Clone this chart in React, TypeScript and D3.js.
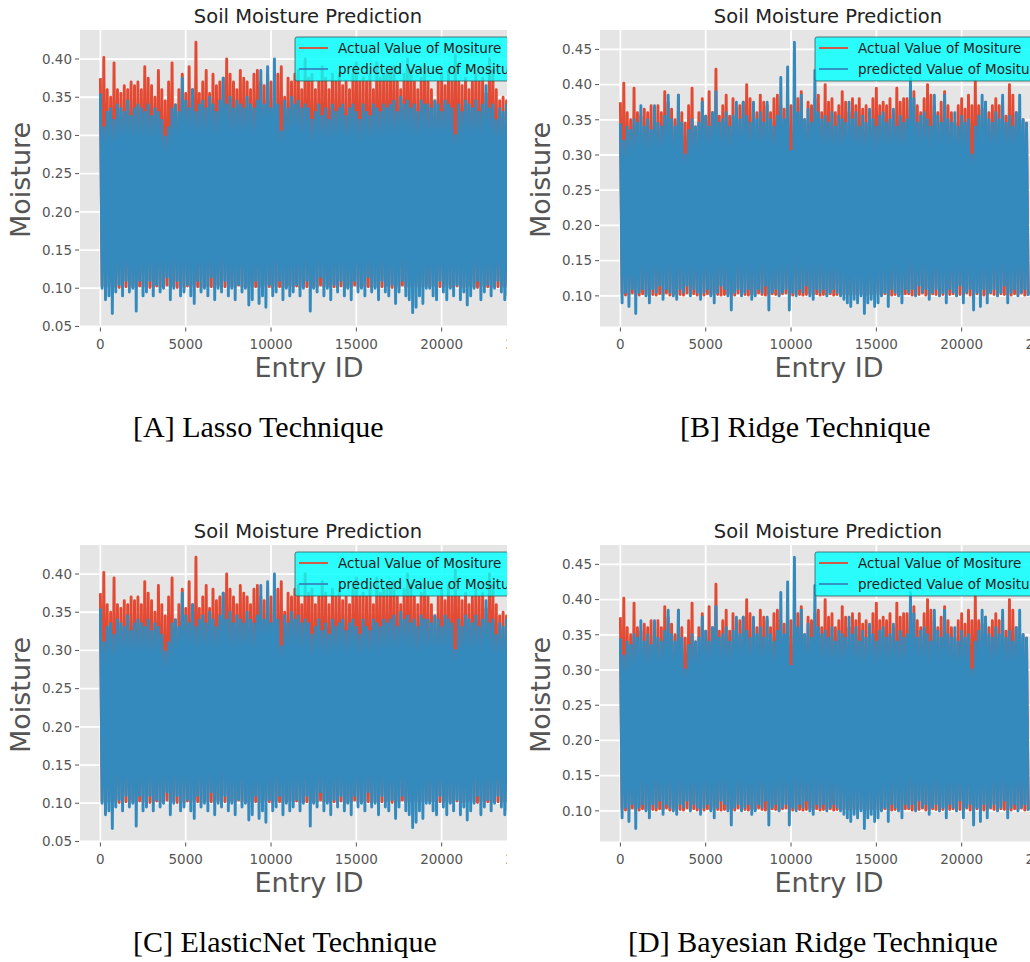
import React from 'react';
import * as d3 from 'd3';

// every pair (high, low) is 200 entries apart, high at 200k, low at 200k + 100
const ENTRY_STEP = 100;

// actual moisture, the same test set for every model
const actualHigh = [
  0.375, 0.402, 0.36, 0.35, 0.395, 0.36, 0.355, 0.365, 0.36, 0.37, 0.365, 0.37,
  0.36, 0.39, 0.375, 0.365, 0.35, 0.385, 0.36, 0.345, 0.37, 0.395, 0.34, 0.36,
  0.38, 0.355, 0.39, 0.36, 0.422, 0.355, 0.37, 0.385, 0.355, 0.38, 0.365, 0.37,
  0.375, 0.4, 0.38, 0.37, 0.36, 0.385, 0.375, 0.37, 0.36, 0.38, 0.385, 0.37,
  0.365, 0.38, 0.37, 0.36, 0.38, 0.39, 0.35, 0.375, 0.37, 0.38, 0.385, 0.36,
  0.4, 0.375, 0.38, 0.36, 0.37, 0.39, 0.375, 0.36, 0.38, 0.37, 0.38, 0.365,
  0.37, 0.36, 0.38, 0.395, 0.37, 0.375, 0.37, 0.38, 0.36, 0.395, 0.375, 0.38,
  0.38, 0.385, 0.39, 0.37, 0.36, 0.38, 0.4, 0.385, 0.37, 0.36, 0.375, 0.39,
  0.37, 0.36, 0.345, 0.37, 0.38, 0.365, 0.385, 0.37, 0.405, 0.37, 0.365, 0.375,
  0.36, 0.37, 0.38, 0.37, 0.375, 0.355, 0.4, 0.385, 0.36, 0.345, 0.35, 0.345,
];
const actualLow = [
  0.103, 0.101, 0.102, 0.104, 0.102, 0.101, 0.103, 0.102, 0.105, 0.102, 0.101, 0.103,
  0.102, 0.104, 0.101, 0.102, 0.103, 0.102, 0.101, 0.104, 0.102, 0.103, 0.101, 0.102,
  0.101, 0.103, 0.102, 0.105, 0.102, 0.101, 0.102, 0.103, 0.102, 0.101, 0.104, 0.102,
  0.102, 0.101, 0.103, 0.102, 0.104, 0.102, 0.101, 0.102, 0.103, 0.102, 0.101, 0.103,
  0.104, 0.102, 0.101, 0.103, 0.102, 0.101, 0.102, 0.104, 0.102, 0.103, 0.101, 0.102,
  0.102, 0.103, 0.101, 0.102, 0.104, 0.102, 0.103, 0.101, 0.102, 0.102, 0.103, 0.101,
  0.101, 0.102, 0.104, 0.102, 0.101, 0.103, 0.102, 0.101, 0.102, 0.104, 0.102, 0.103,
  0.103, 0.101, 0.102, 0.102, 0.104, 0.101, 0.102, 0.103, 0.102, 0.101, 0.102, 0.104,
  0.102, 0.103, 0.101, 0.102, 0.102, 0.104, 0.101, 0.102, 0.103, 0.102, 0.101, 0.102,
  0.104, 0.102, 0.101, 0.103, 0.102, 0.102, 0.101, 0.103, 0.102, 0.104, 0.101, 0.102,
];

// predictions - Lasso and ElasticNet come out the same
const lassoHigh = [
  0.355, 0.31, 0.33, 0.335, 0.32, 0.34, 0.335, 0.33, 0.345, 0.325, 0.335, 0.34,
  0.335, 0.33, 0.34, 0.325, 0.335, 0.33, 0.32, 0.298, 0.31, 0.335, 0.34, 0.33,
  0.375, 0.345, 0.335, 0.36, 0.33, 0.34, 0.345, 0.335, 0.35, 0.34, 0.33, 0.345,
  0.375, 0.34, 0.35, 0.335, 0.345, 0.34, 0.335, 0.35, 0.34, 0.335, 0.345, 0.385,
  0.34, 0.39, 0.335, 0.4, 0.34, 0.305, 0.345, 0.335, 0.35, 0.34, 0.345, 0.335,
  0.34, 0.335, 0.32, 0.33, 0.34, 0.325, 0.335, 0.32, 0.34, 0.33, 0.335, 0.34,
  0.325, 0.335, 0.34, 0.33, 0.32, 0.34, 0.33, 0.325, 0.34, 0.335, 0.33, 0.34,
  0.335, 0.34, 0.345, 0.33, 0.35, 0.34, 0.345, 0.335, 0.34, 0.33, 0.345, 0.34,
  0.34, 0.335, 0.345, 0.34, 0.33, 0.345, 0.34, 0.335, 0.3, 0.34, 0.33, 0.345,
  0.34, 0.335, 0.345, 0.33, 0.34, 0.365, 0.335, 0.34, 0.32, 0.335, 0.33, 0.34,
];
const lassoLow = [
  0.1, 0.085, 0.09, 0.067, 0.095, 0.105, 0.09, 0.11, 0.095, 0.1, 0.07, 0.11,
  0.09, 0.095, 0.11, 0.09, 0.105, 0.095, 0.1, 0.115, 0.085, 0.1, 0.11, 0.09,
  0.095, 0.105, 0.09, 0.08, 0.11, 0.095, 0.1, 0.09, 0.115, 0.085, 0.1, 0.095,
  0.11, 0.09, 0.1, 0.085, 0.105, 0.095, 0.1, 0.078, 0.085, 0.11, 0.08, 0.09,
  0.075, 0.105, 0.09, 0.095, 0.11, 0.085, 0.1, 0.09, 0.095, 0.105, 0.09, 0.1,
  0.11, 0.07, 0.1, 0.095, 0.115, 0.09, 0.1, 0.085, 0.105, 0.095, 0.11, 0.09,
  0.1, 0.085, 0.11, 0.095, 0.1, 0.09, 0.115, 0.095, 0.1, 0.085, 0.11, 0.095,
  0.09, 0.105, 0.08, 0.095, 0.11, 0.09, 0.085, 0.068, 0.075, 0.09, 0.08, 0.1,
  0.1, 0.09, 0.085, 0.11, 0.095, 0.085, 0.1, 0.09, 0.105, 0.085, 0.095, 0.078,
  0.09, 0.1, 0.11, 0.085, 0.095, 0.105, 0.09, 0.1, 0.11, 0.095, 0.085, 0.09,
];

// predictions - Ridge and Bayesian Ridge
const ridgeHigh = [
  0.345, 0.32, 0.34, 0.335, 0.35, 0.345, 0.37, 0.34, 0.35, 0.335, 0.37, 0.345,
  0.34, 0.355, 0.385, 0.35, 0.34, 0.385, 0.345, 0.3, 0.335, 0.35, 0.34, 0.345,
  0.375, 0.355, 0.34, 0.36, 0.39, 0.345, 0.35, 0.36, 0.34, 0.355, 0.375, 0.35,
  0.375, 0.355, 0.345, 0.375, 0.35, 0.36, 0.345, 0.375, 0.35, 0.34, 0.355, 0.41,
  0.35, 0.425, 0.305, 0.46, 0.36, 0.385, 0.35, 0.365, 0.345, 0.42, 0.36, 0.35,
  0.355, 0.345, 0.36, 0.34, 0.355, 0.35, 0.345, 0.375, 0.35, 0.36, 0.34, 0.355,
  0.345, 0.365, 0.35, 0.34, 0.355, 0.36, 0.345, 0.35, 0.365, 0.34, 0.355, 0.345,
  0.35, 0.41, 0.38, 0.345, 0.355, 0.36, 0.35, 0.34, 0.385, 0.355, 0.345, 0.385,
  0.35, 0.345, 0.36, 0.34, 0.355, 0.345, 0.35, 0.3, 0.34, 0.355, 0.385, 0.375,
  0.35, 0.345, 0.36, 0.35, 0.385, 0.345, 0.355, 0.34, 0.36, 0.385, 0.35, 0.345,
];
const ridgeLow = [
  0.09, 0.105, 0.085, 0.11, 0.075, 0.105, 0.11, 0.1, 0.09, 0.11, 0.105, 0.115,
  0.095, 0.11, 0.105, 0.1, 0.095, 0.11, 0.105, 0.115, 0.1, 0.11, 0.105, 0.095,
  0.105, 0.11, 0.1, 0.09, 0.105, 0.115, 0.11, 0.1, 0.08, 0.105, 0.11, 0.1,
  0.105, 0.11, 0.095, 0.1, 0.11, 0.105, 0.115, 0.08, 0.105, 0.11, 0.1, 0.105,
  0.11, 0.08, 0.105, 0.1, 0.11, 0.105, 0.115, 0.1, 0.095, 0.11, 0.105, 0.11,
  0.1, 0.105, 0.11, 0.105, 0.1, 0.095, 0.09, 0.085, 0.095, 0.09, 0.1, 0.075,
  0.09, 0.095, 0.085, 0.09, 0.1, 0.105, 0.085, 0.11, 0.105, 0.1, 0.09, 0.11,
  0.105, 0.11, 0.1, 0.115, 0.105, 0.11, 0.095, 0.105, 0.11, 0.1, 0.105, 0.09,
  0.11, 0.105, 0.1, 0.115, 0.09, 0.105, 0.11, 0.08, 0.105, 0.085, 0.11, 0.09,
  0.105, 0.11, 0.1, 0.105, 0.115, 0.09, 0.105, 0.11, 0.1, 0.105, 0.11, 0.1,
];

const xTicks = [0, 5000, 10000, 15000, 20000, 25000];
const yTicksLasso = [0.05, 0.1, 0.15, 0.2, 0.25, 0.3, 0.35, 0.4];
const yTicksRidge = [0.1, 0.15, 0.2, 0.25, 0.3, 0.35, 0.4, 0.45];

const panels = [
  { id: 'A', ox: 0, oy: 0, crop: 507, high: lassoHigh, low: lassoLow, yDomain: [0.0499, 0.438], yTicks: yTicksLasso, caption: '[A] Lasso Technique', capX: 133 },
  { id: 'B', ox: 520, oy: 0, crop: 1030, high: ridgeHigh, low: ridgeLow, yDomain: [0.0565, 0.4775], yTicks: yTicksRidge, caption: '[B] Ridge Technique', capX: 680 },
  { id: 'C', ox: 0, oy: 515, crop: 507, high: lassoHigh, low: lassoLow, yDomain: [0.0499, 0.438], yTicks: yTicksLasso, caption: '[C] ElasticNet Technique', capX: 133 },
  { id: 'D', ox: 520, oy: 515, crop: 1030, high: ridgeHigh, low: ridgeLow, yDomain: [0.0565, 0.4775], yTicks: yTicksRidge, caption: '[D] Bayesian Ridge Technique', capX: 628 },
];

const RED = '#E24A33';
const BLUE = '#348ABD';
const GREY = '#555555';
const SANS = '"DejaVu Sans", Verdana, sans-serif';
const LINE_W = 2.9;

// alternate high/low values into one series
const zigzag = (high: number[], low: number[]) =>
  high.flatMap((h, k) => [
    { x: 2 * k * ENTRY_STEP, y: h },
    { x: (2 * k + 1) * ENTRY_STEP, y: low[k] },
  ]);

const Panel = ({ p }: { p: (typeof panels)[number] }) => {
  const left = p.ox + 80;
  const top = p.oy + 30;
  const bottom = p.oy + 326.5;
  const w = 448.6;

  const x = d3.scaleLinear().domain([-1195, 25095]).range([left, left + w]);
  const y = d3.scaleLinear().domain(p.yDomain).range([bottom, top]);

  const line = d3
    .line<{ x: number; y: number }>()
    .x((d) => x(d.x))
    .y((d) => y(d.y));

  const actualPath = line(zigzag(actualHigh, actualLow)) || '';
  const predPath = line(zigzag(p.high, p.low)) || '';

  const legX = left + 215;
  const legY = p.oy + 37;

  return (
    <g clipPath={`url(#crop${p.id})`}>
      <clipPath id={`crop${p.id}`}>
        <rect x={p.ox} y={p.oy} width={p.crop - p.ox} height={515} />
      </clipPath>
      <clipPath id={`plot${p.id}`}>
        <rect x={left} y={top} width={w} height={bottom - top} />
      </clipPath>

      {/* axes background + grid */}
      <rect x={left} y={top} width={w} height={bottom - top} fill="#E5E5E5" />
      {xTicks.map((t) => (
        <line key={'gx' + t} x1={x(t)} x2={x(t)} y1={top} y2={bottom} stroke="#fff" strokeWidth={1.8} />
      ))}
      {p.yTicks.map((t) => (
        <line key={'gy' + t} x1={left} x2={left + w} y1={y(t)} y2={y(t)} stroke="#fff" strokeWidth={1.8} />
      ))}

      {/* series */}
      <g clipPath={`url(#plot${p.id})`}>
        <path d={actualPath} fill="none" stroke={RED} strokeWidth={LINE_W} strokeLinejoin="round" />
        <path d={predPath} fill="none" stroke={BLUE} strokeWidth={LINE_W} strokeLinejoin="round" />
      </g>

      {/* ticks */}
      {xTicks.map((t) => (
        <g key={'tx' + t}>
          <line x1={x(t)} x2={x(t)} y1={bottom + 1} y2={bottom + 5} stroke={GREY} strokeWidth={1} />
          <text x={x(t)} y={bottom + 22} textAnchor="middle" fontSize={13.5} fill={GREY} fontFamily={SANS}>
            {t}
          </text>
        </g>
      ))}
      {p.yTicks.map((t) => (
        <g key={'ty' + t}>
          <line x1={left - 5} x2={left - 1} y1={y(t)} y2={y(t)} stroke={GREY} strokeWidth={1} />
          <text x={left - 8} y={y(t)} dy="0.35em" textAnchor="end" fontSize={13.5} fill={GREY} fontFamily={SANS}>
            {d3.format('.2f')(t)}
          </text>
        </g>
      ))}

      {/* legend */}
      <rect x={legX} y={legY} width={240} height={44} rx={2} fill="#00FFFF" fillOpacity={0.82} stroke="#3a5a5a" strokeWidth={0.8} />
      <line x1={legX + 4} x2={legX + 33} y1={legY + 11} y2={legY + 11} stroke={RED} strokeWidth={1.8} />
      <line x1={legX + 4} x2={legX + 33} y1={legY + 32} y2={legY + 32} stroke={BLUE} strokeWidth={1.8} />
      <text x={legX + 43} y={legY + 16} fontSize={13.5} fill="#222" fontFamily={SANS}>
        Actual Value of Mositure
      </text>
      <text x={legX + 43} y={legY + 37} fontSize={13.5} fill="#222" fontFamily={SANS}>
        predicted Value of Mositure
      </text>

      {/* labels */}
      <text x={p.ox + 308} y={p.oy + 23} textAnchor="middle" fontSize={19.5} fill="#222" fontFamily={SANS}>
        Soil Moisture Prediction
      </text>
      <text x={p.ox + 309} y={p.oy + 377} textAnchor="middle" fontSize={27} fill={GREY} fontFamily={SANS}>
        Entry ID
      </text>
      <text
        transform={`translate(${p.ox + 30},${p.oy + 180}) rotate(-90)`}
        textAnchor="middle"
        fontSize={27}
        fill={GREY}
        fontFamily={SANS}
      >
        Moisture
      </text>
      <text x={p.capX} y={p.oy + 437} fontSize={30} fill="#000" fontFamily='"Liberation Serif", "Times New Roman", serif'>
        {p.caption}
      </text>
    </g>
  );
};

const App = () => {
  return (
    <div style={{ position: 'absolute', left: 0, top: 0, background: '#fff' }}>
      <svg width={1030} height={962} style={{ display: 'block' }}>
        <rect width={1030} height={962} fill="#fff" />
        {panels.map((p) => (
          <Panel key={p.id} p={p} />
        ))}
      </svg>
    </div>
  );
};

export default App;
